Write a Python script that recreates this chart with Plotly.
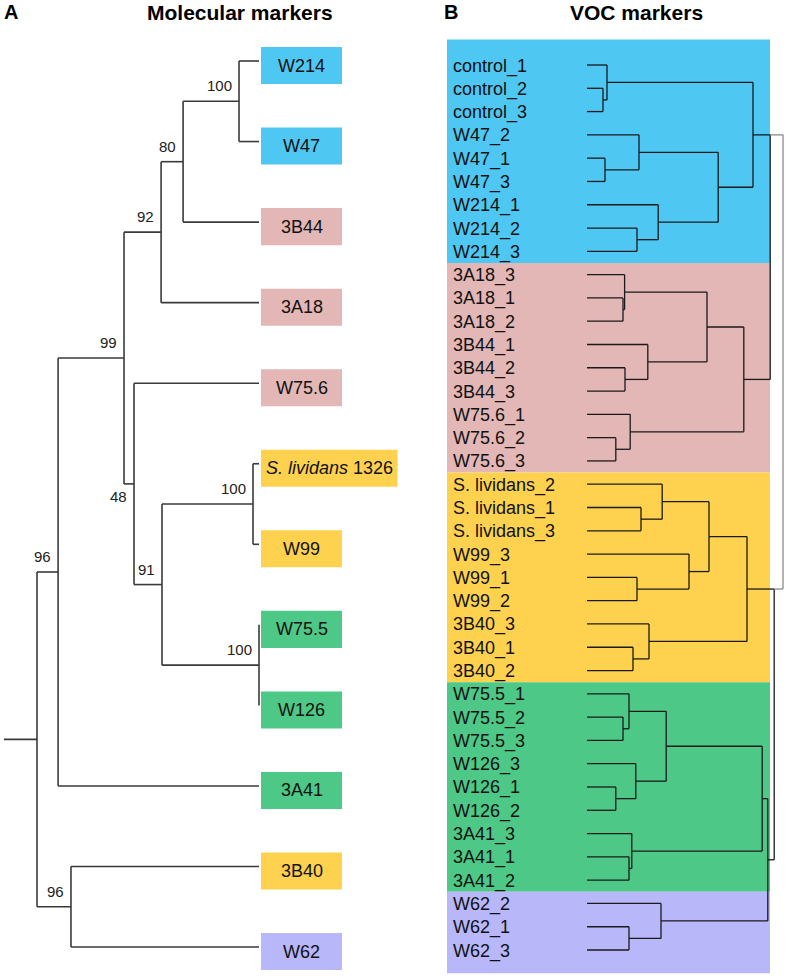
import plotly.graph_objects as go

# ---------------- Panel A data: molecular markers tree ----------------
A_leaves = ["W214", "W47", "3B44", "3A18", "W75.6", "S. lividans 1326", "W99",
            "W75.5", "W126", "3A41", "3B40", "W62"]
A_leaf_labels = ["W214", "W47", "3B44", "3A18", "W75.6", "<i>S. lividans</i> 1326", "W99",
                 "W75.5", "W126", "3A41", "3B40", "W62"]
A_leaf_groups = ["blue", "blue", "pink", "pink", "pink", "yellow", "yellow",
                 "green", "green", "green", "yellow", "purple"]
# internal nodes: name -> (child1, child2, depth from root, bootstrap)
A_nodes = {
    "n100a": ("W214", "W47", 0.910, 100),
    "n80": ("n100a", "3B44", 0.658, 80),
    "n92": ("n80", "3A18", 0.559, 92),
    "n100b": ("S. lividans 1326", "W99", 0.973, 100),
    "n100c": ("W75.5", "W126", 1.000, 100),
    "n91": ("n100b", "n100c", 0.563, 91),
    "n48": ("W75.6", "n91", 0.437, 48),
    "n99": ("n92", "n48", 0.392, 99),
    "n96a": ("n99", "3A41", 0.095, 96),
    "n96b": ("3B40", "W62", 0.153, 96),
    "root": ("n96a", "n96b", 0.000, None),
}
A_leaf_depth = 1.0
A_root_stub = -0.149
A_labels_below = {"n48"}

# ---------------- Panel B data: VOC markers dendrogram ----------------
B_leaves = ["control_1", "control_2", "control_3", "W47_2", "W47_1", "W47_3",
            "W214_1", "W214_2", "W214_3",
            "3A18_3", "3A18_1", "3A18_2", "3B44_1", "3B44_2", "3B44_3",
            "W75.6_1", "W75.6_2", "W75.6_3",
            "S. lividans_2", "S. lividans_1", "S. lividans_3", "W99_3", "W99_1", "W99_2",
            "3B40_3", "3B40_1", "3B40_2",
            "W75.5_1", "W75.5_2", "W75.5_3", "W126_3", "W126_1", "W126_2",
            "3A41_3", "3A41_1", "3A41_2",
            "W62_2", "W62_1", "W62_3"]
B_group_order = ["blue", "pink", "yellow", "green", "purple"]
B_group_sizes = [9, 9, 9, 9, 3]
# merges: (child1, child2, height, name)
B_merges = [
    ("control_2", "control_3", 0.40, "c23"),
    ("control_1", "c23", 0.50, "ctrl"),
    ("W47_1", "W47_3", 0.45, "w47_13"),
    ("W47_2", "w47_13", 1.30, "w47"),
    ("W214_2", "W214_3", 1.25, "w214_23"),
    ("W214_1", "w214_23", 1.78, "w214"),
    ("w47", "w214", 3.28, "w47w214"),
    ("ctrl", "w47w214", 4.15, "blue"),
    ("3A18_1", "3A18_2", 0.90, "a18_12"),
    ("3A18_3", "a18_12", 0.94, "a18"),
    ("3B44_2", "3B44_3", 0.95, "b44_23"),
    ("3B44_1", "b44_23", 1.52, "b44"),
    ("a18", "b44", 3.00, "a18b44"),
    ("W75.6_2", "W75.6_3", 0.72, "w756_23"),
    ("W75.6_1", "w756_23", 1.08, "w756"),
    ("a18b44", "w756", 3.92, "pink"),
    ("blue", "pink", 4.58, "bp"),
    ("S. lividans_1", "S. lividans_3", 1.35, "sl13"),
    ("S. lividans_2", "sl13", 1.88, "sl"),
    ("W99_1", "W99_2", 1.25, "w99_12"),
    ("W99_3", "w99_12", 2.55, "w99"),
    ("sl", "w99", 3.05, "slw99"),
    ("3B40_1", "3B40_2", 1.15, "b40_12"),
    ("3B40_3", "b40_12", 1.55, "b40"),
    ("slw99", "b40", 4.00, "yellow"),
    ("W75.5_2", "W75.5_3", 0.90, "w755_23"),
    ("W75.5_1", "w755_23", 1.05, "w755"),
    ("W126_1", "W126_2", 0.72, "w126_12"),
    ("W126_3", "w126_12", 1.22, "w126"),
    ("w755", "w126", 1.98, "w755w126"),
    ("3A41_1", "3A41_2", 1.05, "a41_12"),
    ("3A41_3", "a41_12", 1.12, "a41"),
    ("w755w126", "a41", 4.38, "green"),
    ("W62_1", "W62_3", 1.05, "w62_13"),
    ("W62_2", "w62_13", 1.85, "w62"),
    ("green", "w62", 4.52, "gp"),
    ("yellow", "gp", 4.68, "ygp"),
    ("bp", "ygp", 4.90, "root"),
]

# ---------------- styles ----------------
COLORS = {"blue": "#4FC7F3", "pink": "#E2B7B5", "yellow": "#FED24F",
          "green": "#4DC887", "purple": "#B7B7FA"}
FONT = "Liberation Sans, Arial, sans-serif"
W, H = 787, 978

fig = go.Figure()

# ---------------- build panel A ----------------
A_y = {name: i for i, name in enumerate(A_leaves)}
A_x = {name: A_leaf_depth for name in A_leaves}


def a_pos(n):
    if n in A_y:
        return A_y[n]
    c1, c2, d, _ = A_nodes[n]
    A_y[n] = (a_pos(c1) + a_pos(c2)) / 2
    A_x[n] = d
    return A_y[n]


a_pos("root")
ax, ay = [], []
for n, (c1, c2, d, bs) in A_nodes.items():
    ax += [d, d, None]
    ay += [A_y[c1], A_y[c2], None]
    for c in (c1, c2):
        ax += [d, A_x[c], None]
        ay += [A_y[c], A_y[c], None]
ax += [A_root_stub, 0.0, None]
ay += [A_y["root"], A_y["root"], None]
fig.add_trace(go.Scatter(x=ax, y=ay, mode="lines", xaxis="x", yaxis="y",
                         line=dict(color="#3a3a3a", width=1.6), hoverinfo="skip",
                         showlegend=False))

# bootstrap labels
for n, (c1, c2, d, bs) in A_nodes.items():
    if bs is None:
        continue
    below = n in A_labels_below
    fig.add_annotation(x=d, y=A_y[n], xref="x", yref="y", text=str(bs),
                       showarrow=False, xanchor="right",
                       yanchor="top" if below else "bottom",
                       xshift=-5, yshift=-2 if below else 5,
                       font=dict(family=FONT, size=15, color="#222"))

# leaf boxes
for i, (lab, g) in enumerate(zip(A_leaf_labels, A_leaf_groups)):
    bw = 0.615 if len(lab) > 8 else 0.365
    x0 = A_leaf_depth + 0.009
    yc = i + 0.056
    fig.add_shape(type="rect", xref="x", yref="y", x0=x0, x1=x0 + bw,
                  y0=yc - 0.23, y1=yc + 0.23, fillcolor=COLORS[g], line=dict(width=0),
                  layer="below")
    fig.add_annotation(x=x0 + bw / 2, y=yc, xref="x", yref="y", text=lab,
                       showarrow=False, xanchor="center", yanchor="middle",
                       font=dict(family=FONT, size=18, color="#111"))

# ---------------- build panel B ----------------
B_y = {name: i for i, name in enumerate(B_leaves)}
B_h = {name: 0.0 for name in B_leaves}
B_span = {}
for c1, c2, h, name in B_merges:
    B_y[name] = (B_y[c1] + B_y[c2]) / 2
    B_h[name] = h
    B_span[name] = (min(B_y[c1], B_y[c2]), max(B_y[c1], B_y[c2]))

bx, by = [], []
gx, gy = [], []
for c1, c2, h, name in B_merges:
    if name == "root":
        # outer connector drawn to the top end of each child's vertical
        t1 = B_span[c1][0]
        t2 = B_span[c2][0]
        gx += [h, h, None, B_h[c1], h, None, B_h[c2], h, None]
        gy += [t1, t2, None, t1, t1, None, t2, t2, None]
        continue
    bx += [h, h, None]
    by += [B_y[c1], B_y[c2], None]
    for c in (c1, c2):
        bx += [B_h[c], h, None]
        by += [B_y[c], B_y[c], None]

# colour bands
start = 0
band_x0, band_x1 = -3.5, 4.575
for gi, (g, n) in enumerate(zip(B_group_order, B_group_sizes)):
    y0 = start - 0.5
    y1 = start + n - 0.5
    if gi == 0:
        y0 -= 0.6
    if gi == len(B_group_order) - 1:
        y1 += 0.5
    fig.add_shape(type="rect", xref="x2", yref="y2", x0=band_x0, x1=band_x1,
                  y0=y0, y1=y1, fillcolor=COLORS[g], line=dict(width=0), layer="below")
    start += n

fig.add_trace(go.Scatter(x=bx, y=by, mode="lines", xaxis="x2", yaxis="y2",
                         line=dict(color="#1a1a1a", width=1.3), hoverinfo="skip",
                         showlegend=False))
fig.add_trace(go.Scatter(x=gx, y=gy, mode="lines", xaxis="x2", yaxis="y2",
                         line=dict(color="#8a8a8a", width=1.3), hoverinfo="skip",
                         showlegend=False))

for i, lab in enumerate(B_leaves):
    fig.add_annotation(x=-3.4, y=i, xref="x2", yref="y2", text=lab, showarrow=False,
                       xanchor="left", yanchor="middle", yshift=-1,
                       font=dict(family=FONT, size=18, color="#111"))

# ---------------- titles ----------------
for txt, xp, anchor in [("A", 2, "left"), ("Molecular markers", 240, "center"),
                        ("B", 442, "left"), ("VOC markers", 636, "center")]:
    fig.add_annotation(x=xp / W, y=1 - 12 / H, xref="paper", yref="paper", text=f"<b>{txt}</b>",
                       showarrow=False, xanchor=anchor, yanchor="middle",
                       font=dict(family=FONT, size=21 if len(txt) > 1 else 20, color="#000"))

hidden = dict(visible=False, showgrid=False, zeroline=False, fixedrange=True)
fig.update_layout(
    width=W, height=H, margin=dict(l=0, r=0, t=0, b=0),
    paper_bgcolor="white", plot_bgcolor="rgba(0,0,0,0)",
    xaxis=dict(domain=[0, 1], range=[-37 / 222, 750 / 222], **hidden),
    yaxis=dict(domain=[0, 1], range=[(978 - 61) / 80.55, -61 / 80.55], **hidden),
    xaxis2=dict(domain=[0, 1], range=[-587 / 40, 200 / 40], overlaying="x", **hidden),
    yaxis2=dict(domain=[0, 1], range=[(978 - 65) / 23.29, -65 / 23.29], overlaying="y", **hidden),
    showlegend=False,
)

fig.write_html("out.html", config={"displayModeBar": False},
               post_script="document.body.style.margin='0';document.body.style.padding='0';")
